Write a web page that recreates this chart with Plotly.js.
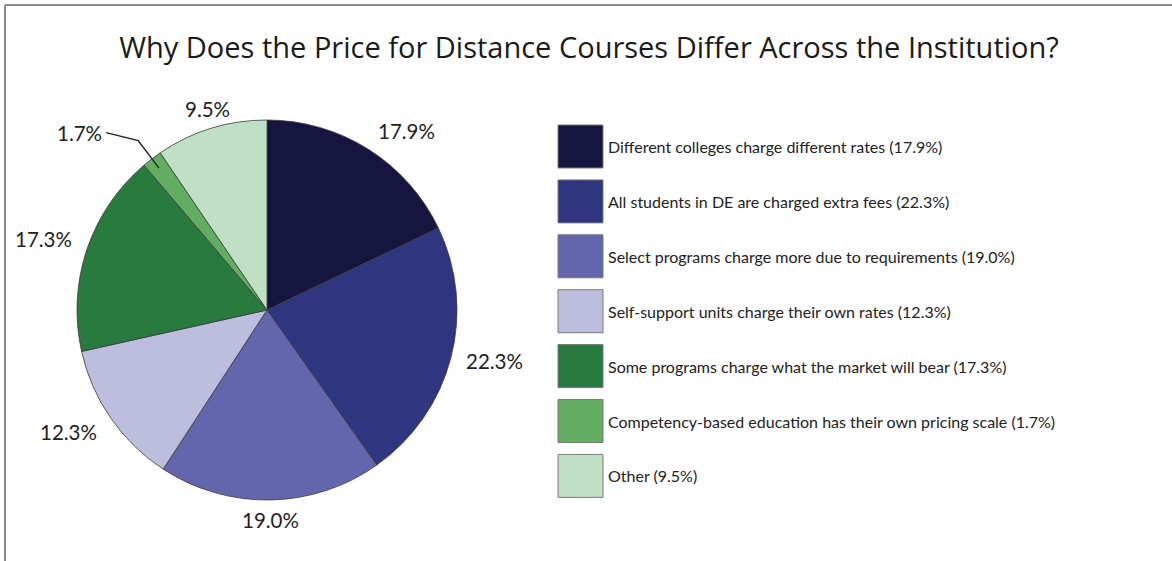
<!DOCTYPE html>
<html>
<head>
<meta charset="utf-8">
<script src="https://cdn.plot.ly/plotly-3.0.1.min.js"></script>
<style>html,body{margin:0;padding:0;background:#fff;}#chart{width:1172px;height:561px;}</style>
</head>
<body>
<div id="chart"></div>
<script>
// ---- data ----
const categories = [
  "Different colleges charge different rates",
  "All students in DE are charged extra fees",
  "Select programs charge more due to requirements",
  "Self-support units charge their own rates",
  "Some programs charge what the market will bear",
  "Competency-based education has their own pricing scale",
  "Other"
];
const percents = [17.9, 22.3, 19.0, 12.3, 17.3, 1.7, 9.5];
const sliceColors = ["#15153f", "#2f3680", "#6466ad", "#bdbedd", "#287a3e", "#63ad63", "#bfe0c5"];
const chartTitle = "Why Does the Price for Distance Courses Differ Across the Institution?";

// ---- geometry (pixels) ----
const W = 1172, H = 561;
const TITLE_FONT = "Open Sans, sans-serif";
const FONT = "Lato, sans-serif";
const LABEL_SIZE = 20.5;
const pie = {cx: 267, cy: 310, r: 190};
const px = x => x / W;
const py = y => 1 - y / H;

const annotations = [];
const shapes = [];

// frame
shapes.push({type: "line", xref: "paper", yref: "paper", x0: px(5), x1: px(5), y0: py(5), y1: py(561), line: {color: "#8a8a8a", width: 2}});
shapes.push({type: "line", xref: "paper", yref: "paper", x0: px(5), x1: px(1172), y0: py(5), y1: py(5), line: {color: "#8a8a8a", width: 2}});

// percent labels around the pie
const total = percents.reduce((a, b) => a + b, 0);
let cum = 0;
percents.forEach((v, i) => {
  const mid = (cum + v / 2) / total * 2 * Math.PI;
  cum += v;
  const s = Math.sin(mid), c = Math.cos(mid);
  const txt = v.toFixed(1) + "%";
  if (v < 3) {
    const ex = pie.cx + pie.r * 0.94 * s, ey = pie.cy - pie.r * 0.94 * c;
    const bx = pie.cx + pie.r * 1.12 * s, by = pie.cy - pie.r * 1.12 * c;
    const tx = bx - 32, ty = by - 8;
    shapes.push({type: "path", xref: "paper", yref: "paper",
      path: `M ${px(tx)} ${py(ty)} L ${px(bx)} ${py(by)} L ${px(ex)} ${py(ey)}`,
      line: {color: "#222", width: 1.5}});
    annotations.push({text: txt, xref: "paper", yref: "paper", x: px(tx - 2), y: py(ty),
      xanchor: "right", yanchor: "middle", showarrow: false, font: {family: FONT, size: LABEL_SIZE, color: "#222"}});
  } else {
    const d = pie.r + 14;
    const xa = s > 0.3 ? "left" : (s < -0.3 ? "right" : "center");
    const ya = c > 0.3 ? "bottom" : (c < -0.3 ? "top" : "middle");
    const ax = pie.cx + d * s;
    const ay = pie.cy - d * c + (ya === "bottom" ? 8 : (ya === "top" ? -8 : 0));
    annotations.push({text: txt, xref: "paper", yref: "paper", x: px(ax), y: py(ay),
      xanchor: xa, yanchor: ya,
      showarrow: false, font: {family: FONT, size: LABEL_SIZE, color: "#222"}});
  }
});

// custom legend
const legX = 558, legY = 125, sw = 45, sh = 43, step = 54.9;
categories.forEach((name, i) => {
  const y0 = legY + i * step;
  shapes.push({type: "rect", xref: "paper", yref: "paper", x0: px(legX), x1: px(legX + sw), y0: py(y0), y1: py(y0 + sh),
    fillcolor: sliceColors[i], line: {color: "#7a7a7a", width: 1}});
  annotations.push({text: name + " (" + percents[i].toFixed(1) + "%)", xref: "paper", yref: "paper",
    x: px(legX + sw + 3), y: py(y0 + sh / 2), xanchor: "left", yanchor: "middle", showarrow: false,
    font: {family: FONT, size: 16, color: "#222"}});
});

const trace = {
  type: "pie",
  labels: categories,
  values: percents,
  sort: false,
  direction: "clockwise",
  rotation: 0,
  marker: {colors: sliceColors, line: {color: "#3a3a3a", width: 0.8}},
  textinfo: "none",
  hoverinfo: "label+percent",
  showlegend: false,
  domain: {x: [px(pie.cx - pie.r), px(pie.cx + pie.r)], y: [py(pie.cy + pie.r), py(pie.cy - pie.r)]}
};

const layout = {
  width: W, height: H,
  margin: {l: 0, r: 0, t: 0, b: 0},
  paper_bgcolor: "#fff",
  showlegend: false,
  title: {text: chartTitle, x: px(589), xanchor: "center", y: py(48), yanchor: "middle", xref: "paper", yref: "paper",
    font: {family: TITLE_FONT, size: 29, color: "#1a1a1a"}},
  annotations: annotations,
  shapes: shapes
};

Plotly.newPlot("chart", [trace], layout, {displayModeBar: false, staticPlot: true});
</script>
</body>
</html>
